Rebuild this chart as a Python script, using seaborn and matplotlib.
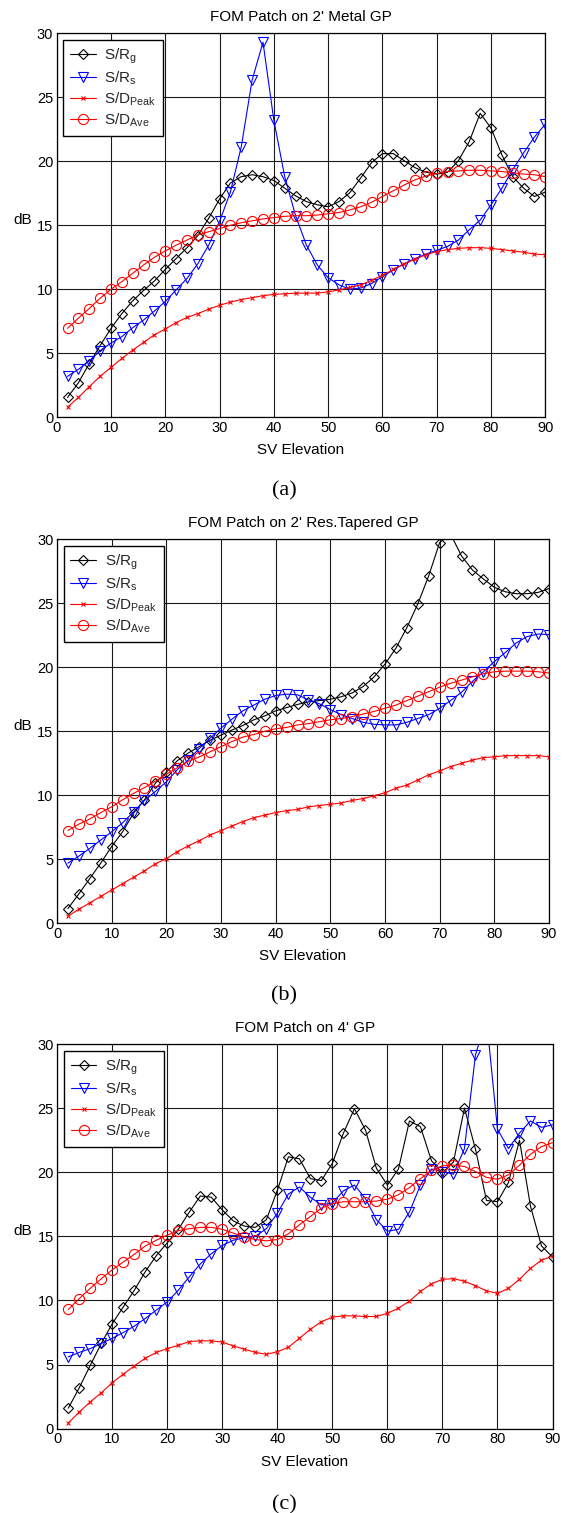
import numpy as np
import pandas as pd
import matplotlib
matplotlib.use("Agg")
import matplotlib.pyplot as plt
import seaborn as sns

# Satellite elevation angles (degrees)
elevation = [2, 4, 6, 8, 10, 12, 14, 16, 18, 20, 22, 24, 26, 28, 30, 32, 34, 36, 38, 40, 42, 44,
             46, 48, 50, 52, 54, 56, 58, 60, 62, 64, 66, 68, 70, 72, 74, 76, 78, 80, 82, 84, 86, 88, 90]

# (a) Patch on 2' metal ground plane
a_srg = [1.55, 2.7, 4.2, 5.6, 6.95, 8.1, 9.1, 9.9, 10.65, 11.55, 12.4, 13.25, 14.2, 15.55, 17.05, 18.3,
         18.8, 18.95, 18.8, 18.5, 17.9, 17.3, 16.85, 16.6, 16.45, 16.85, 17.55, 18.7, 19.9, 20.6, 20.6,
         20.05, 19.5, 19.15, 19.0, 19.15, 20.05, 21.55, 23.75, 22.6, 20.5, 18.8, 17.9, 17.25, 17.6]
a_srs = [3.2, 3.75, 4.4, 5.2, 5.8, 6.3, 7.0, 7.6, 8.3, 9.05, 9.95, 10.85, 12.0, 13.45, 15.3, 17.6,
         21.15, 26.35, 29.3, 23.2, 18.8, 15.75, 13.45, 11.9, 10.9, 10.35, 10.0, 10.1, 10.45, 11.0, 11.5,
         12.0, 12.4, 12.75, 13.05, 13.35, 13.85, 14.65, 15.4, 16.6, 17.9, 19.35, 20.65, 21.9, 22.9]
a_dpk = [0.8, 1.55, 2.4, 3.2, 3.9, 4.6, 5.25, 5.85, 6.45, 6.9, 7.4, 7.8, 8.1, 8.45, 8.75, 9.0, 9.2,
         9.35, 9.5, 9.6, 9.65, 9.7, 9.7, 9.7, 9.8, 9.95, 10.15, 10.35, 10.7, 11.1, 11.55, 12.0, 12.35,
         12.7, 12.95, 13.1, 13.2, 13.25, 13.25, 13.2, 13.1, 13.0, 12.9, 12.75, 12.7]
a_dav = [6.95, 7.75, 8.5, 9.3, 10.0, 10.6, 11.25, 11.9, 12.5, 13.0, 13.45, 13.85, 14.25, 14.5, 14.75,
         15.0, 15.2, 15.35, 15.5, 15.6, 15.7, 15.75, 15.75, 15.8, 15.9, 16.0, 16.2, 16.45, 16.8, 17.25,
         17.7, 18.15, 18.55, 18.85, 19.05, 19.2, 19.25, 19.3, 19.3, 19.25, 19.2, 19.1, 19.0, 18.95, 18.8]

# (b) Patch on 2' resistively tapered ground plane
b_srg = [1.15, 2.3, 3.5, 4.7, 6.0, 7.15, 8.6, 9.65, 10.95, 11.8, 12.7, 13.3, 13.8, 14.3, 14.7, 15.1,
         15.45, 15.9, 16.2, 16.6, 16.85, 17.1, 17.3, 17.4, 17.5, 17.7, 18.0, 18.5, 19.25, 20.25, 21.5,
         23.1, 24.95, 27.15, 29.75, 30.4, 28.7, 27.6, 26.9, 26.25, 25.9, 25.75, 25.75, 25.85, 26.15]
b_srs = [4.7, 5.25, 5.85, 6.5, 7.15, 7.85, 8.7, 9.6, 10.3, 11.05, 12.0, 12.75, 13.65, 14.45, 15.25,
         15.95, 16.6, 17.05, 17.5, 17.8, 17.9, 17.85, 17.45, 17.15, 16.7, 16.3, 16.0, 15.7, 15.55, 15.5,
         15.5, 15.7, 16.0, 16.3, 16.8, 17.4, 18.05, 18.9, 19.65, 20.45, 21.15, 21.9, 22.4, 22.6, 22.55]
b_dpk = [0.55, 1.1, 1.6, 2.1, 2.6, 3.1, 3.6, 4.1, 4.65, 5.05, 5.6, 6.05, 6.45, 6.9, 7.25, 7.6, 7.95,
         8.25, 8.45, 8.65, 8.8, 8.9, 9.1, 9.2, 9.3, 9.4, 9.6, 9.75, 9.95, 10.2, 10.55, 10.8, 11.2, 11.6,
         11.9, 12.25, 12.5, 12.75, 12.95, 13.0, 13.1, 13.1, 13.1, 13.1, 13.0]
b_dav = [7.25, 7.75, 8.15, 8.65, 9.1, 9.65, 10.15, 10.6, 11.1, 11.65, 12.15, 12.65, 13.0, 13.4, 13.8,
         14.2, 14.55, 14.75, 15.0, 15.2, 15.3, 15.5, 15.6, 15.75, 15.9, 16.0, 16.15, 16.35, 16.55, 16.8,
         17.05, 17.4, 17.75, 18.1, 18.45, 18.75, 19.0, 19.25, 19.5, 19.65, 19.7, 19.7, 19.7, 19.65, 19.55]

# (c) Patch on 4' ground plane
c_srg = [1.6, 3.2, 4.95, 6.65, 8.2, 9.5, 10.8, 12.25, 13.5, 14.5, 15.55, 16.9, 18.15, 18.05, 17.05,
         16.2, 15.8, 15.7, 16.3, 18.6, 21.2, 21.05, 19.5, 19.35, 20.7, 23.05, 24.95, 23.3, 20.3, 19.0,
         20.25, 24.0, 23.55, 20.9, 19.95, 20.8, 25.0, 21.8, 17.8, 17.7, 19.2, 22.5, 17.35, 14.25, 13.4]
c_srs = [5.6, 5.95, 6.25, 6.65, 7.05, 7.5, 8.0, 8.6, 9.25, 9.9, 10.8, 11.85, 12.85, 13.65, 14.3, 14.7,
         14.9, 15.0, 15.6, 16.8, 18.3, 18.85, 18.05, 17.45, 17.6, 18.55, 19.0, 17.95, 16.3, 15.4, 15.55,
         16.9, 19.0, 20.25, 20.05, 19.85, 21.85, 29.15, 32.0, 23.35, 21.85, 23.05, 24.0, 23.5, 23.7]
c_dpk = [0.45, 1.3, 2.1, 2.8, 3.6, 4.25, 4.9, 5.5, 5.95, 6.25, 6.5, 6.8, 6.85, 6.85, 6.75, 6.45, 6.2,
         5.95, 5.8, 6.0, 6.35, 7.05, 7.75, 8.35, 8.7, 8.8, 8.8, 8.75, 8.75, 9.0, 9.4, 9.95, 10.7, 11.3,
         11.65, 11.7, 11.5, 11.15, 10.75, 10.55, 10.95, 11.65, 12.5, 13.15, 13.45]
c_dav = [9.3, 10.15, 10.95, 11.7, 12.4, 13.0, 13.6, 14.25, 14.7, 15.1, 15.45, 15.6, 15.7, 15.7, 15.55,
         15.25, 14.95, 14.75, 14.65, 14.75, 15.2, 15.9, 16.55, 17.2, 17.55, 17.7, 17.7, 17.7, 17.75, 17.9,
         18.25, 18.8, 19.5, 20.15, 20.5, 20.55, 20.45, 20.05, 19.6, 19.45, 19.8, 20.55, 21.4, 22.0, 22.3]

titles = ["FOM Patch on 2' Metal GP", "FOM Patch on 2' Res.Tapered GP", "FOM Patch on 4' GP"]
captions = ["(a)", "(b)", "(c)"]
series_labels = ["S/R$_g$", "S/R$_s$", "S/D$_{Peak}$", "S/D$_{Ave}$"]
x_ticks = [0, 10, 20, 30, 40, 50, 60, 70, 80, 90]
y_ticks = [0, 5, 10, 15, 20, 25, 30]

panels = [
    (a_srg, a_srs, a_dpk, a_dav),
    (b_srg, b_srs, b_dpk, b_dav),
    (c_srg, c_srs, c_dpk, c_dav),
]

sns.set_theme(style="white")
plt.rcParams["font.family"] = ["Liberation Sans", "DejaVu Sans"]
plt.rcParams["mathtext.default"] = "regular"

styles = [
    dict(color="black", marker="D", markersize=5.4, markerfacecolor="none",
         markeredgecolor="black", markeredgewidth=0.8),
    dict(color="#0000ff", marker="v", markersize=7.3, markerfacecolor="none",
         markeredgecolor="#0000ff", markeredgewidth=0.8),
    dict(color="#ff0000", marker="x", markersize=3.2,
         markeredgecolor="#ff0000", markeredgewidth=0.8),
    dict(color="#ff0000", marker="o", markersize=7.3, markerfacecolor="none",
         markeredgecolor="#ff0000", markeredgewidth=0.8),
]

W, H = 563, 1513
fig = plt.figure(figsize=(W / 100, H / 100), dpi=100)

# axes boxes in pixels: left, top, right, bottom
boxes = [(56.7, 33.3, 545.3, 417.3), (57.0, 539.3, 549.0, 923.3), (57.3, 1044.0, 552.5, 1428.7)]
caption_y = [491, 996, 1505]

for i, (series, box) in enumerate(zip(panels, boxes)):
    l, t, r, b = box
    ax = fig.add_axes([l / W, 1 - b / H, (r - l) / W, (b - t) / H])
    for vals, lab, st in zip(series, series_labels, styles):
        df = pd.DataFrame({"elev": elevation, "db": vals})
        sns.lineplot(data=df, x="elev", y="db", ax=ax, label=lab, linewidth=0.8, **st)
    ax.set_xlim(0, 90)
    ax.set_ylim(0, 30)
    ax.set_xticks(x_ticks)
    ax.set_yticks(y_ticks)
    ax.grid(True, color="#1a1a1a", linewidth=0.8)
    ax.set_axisbelow(True)
    for sp in ax.spines.values():
        sp.set_color("black")
        sp.set_linewidth(0.9)
    ax.tick_params(axis="both", direction="in", length=3, width=0.8, labelsize=10.5,
                   colors="black", pad=2.5)
    ax.set_title(titles[i], fontsize=11, pad=9, color="black")
    ax.set_xlabel("SV Elevation", fontsize=11, color="black", labelpad=6)
    ax.set_ylabel("dB", fontsize=11, rotation=0, ha="center", va="center", color="black")
    ax.yaxis.set_label_coords((22.5 - l) / (r - l), 0.514)
    leg = ax.legend(loc="upper left", fontsize=11, frameon=True, fancybox=False,
                    edgecolor="black", framealpha=1, borderaxespad=0.43, handlelength=1.67,
                    handletextpad=0.57, labelspacing=0.24, borderpad=0.45)
    leg.get_frame().set_linewidth(1.0)
    fig.text(284 / W, 1 - caption_y[i] / H, captions[i], ha="center", va="center",
             fontsize=16, family=["Liberation Serif", "DejaVu Serif"], color="black")

fig.savefig("out.png", dpi=100, facecolor="white")
